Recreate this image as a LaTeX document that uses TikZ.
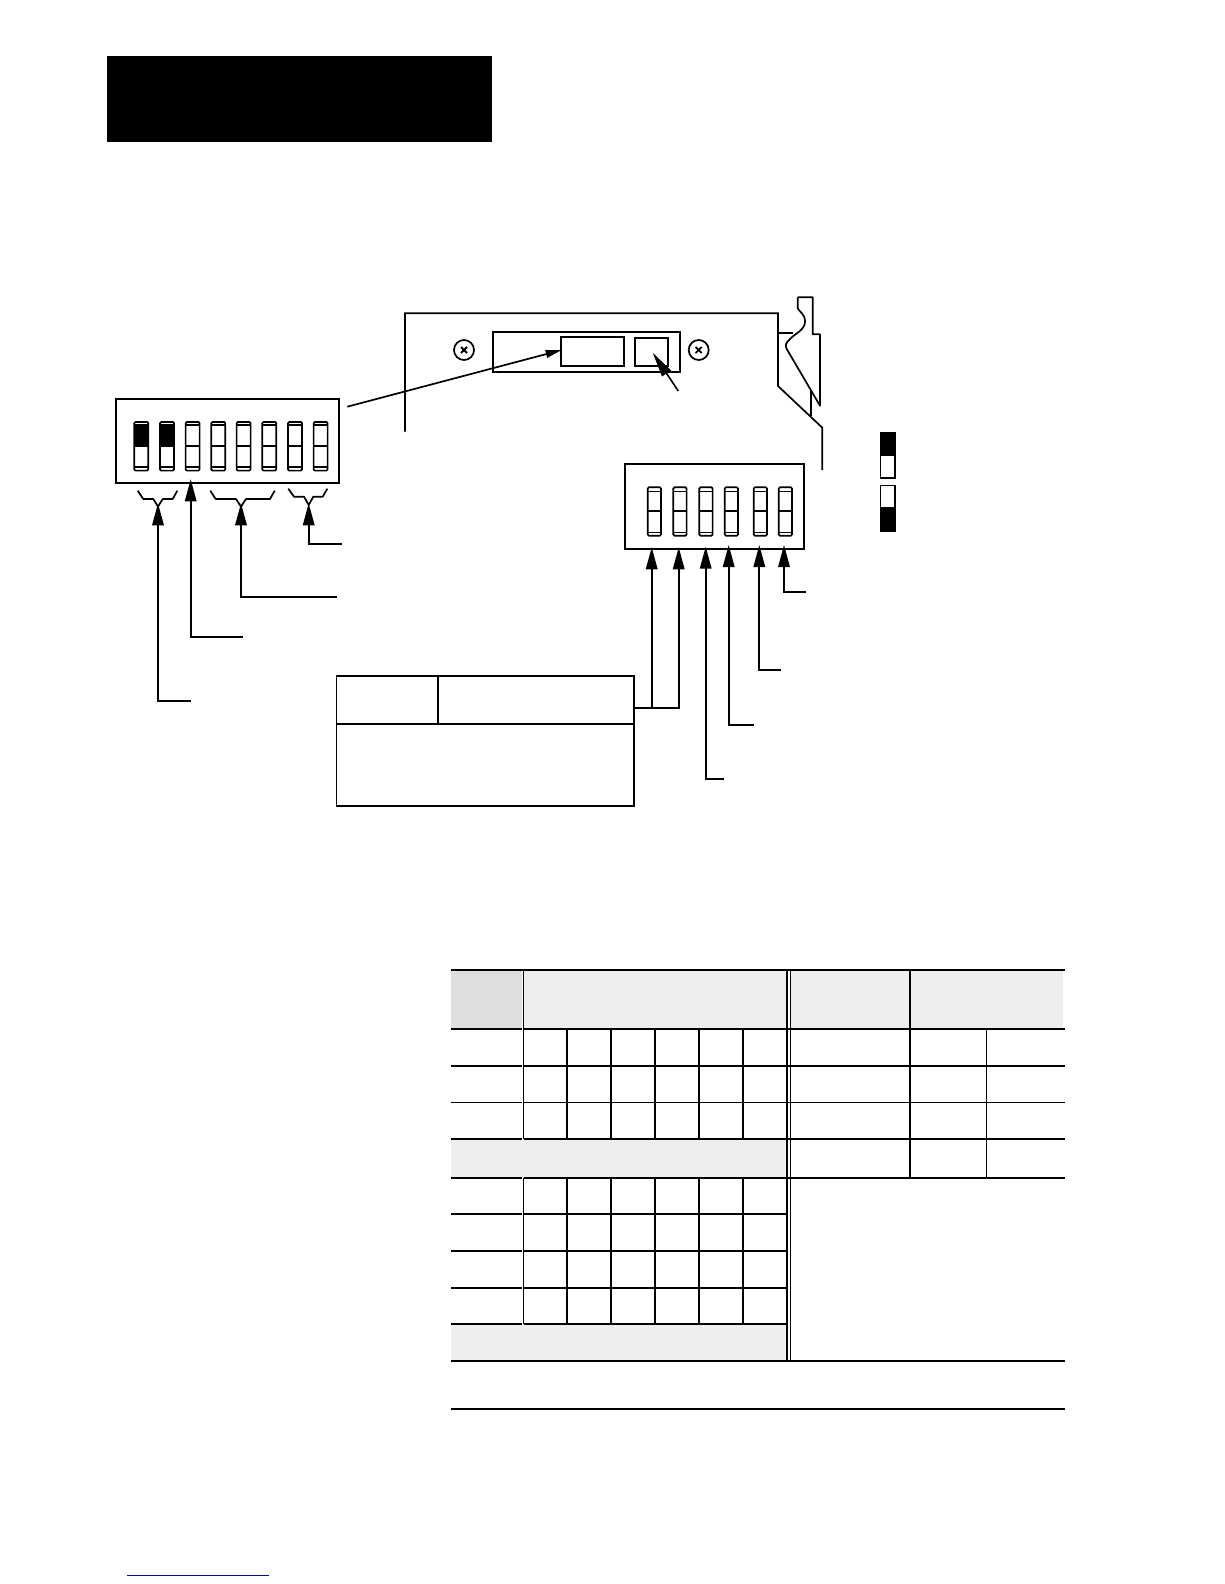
\documentclass[tikz,border=0pt]{standalone}
\usetikzlibrary{arrows.meta,calc}
\definecolor{hdgrey}{gray}{0.87}
\definecolor{lightgrey}{gray}{0.935}
\definecolor{footblue}{rgb}{0.05,0.05,0.55}
\tikzset{
  x=1pt,y=-1pt,
  ln/.style={line width=1.7pt,black,line cap=butt,line join=miter},
  lead/.style={ln,-{Triangle[length=22pt,width=11.5pt]}},
  leadsmall/.style={ln,-{Triangle[length=16pt,width=7.5pt]}},
  leadmid/.style={ln,-{Triangle[length=25pt,width=10.5pt]}},
  brace/.style={ln,line join=round},
  framebox/.style={draw,line width=1.9pt,rectangle,outer sep=0pt,inner sep=0pt},
  rowrule/.style={line width=2pt,black},
  rowthin/.style={line width=1.1pt,black},
  colrule/.style={line width=1.8pt,black},
  colthin/.style={line width=1.1pt,black},
  colheavy/.style={line width=2.2pt,black},
  screw/.style={draw,circle,line width=1.7pt,minimum size=20pt,inner sep=0pt},
  swleg/.style={draw,line width=1.6pt,rectangle,minimum width=14.5pt,inner sep=0pt,outer sep=0pt}
}
% name, x1,y1,x2,y2
\newcommand{\boxnode}[5]{%
  \pgfmathsetmacro{\bw}{#4-#2}\pgfmathsetmacro{\bh}{#5-#3}%
  \node[framebox,minimum width=\bw pt,minimum height=\bh pt] (#1) at ({(#2+#4)/2},{(#3+#5)/2}) {};}
% left x, y top, y mid, y lower cap, y bottom, y upper cap, width
\newcommand{\dipswitch}[7]{%
  \draw[ln,rounded corners=1.2pt] (#1,#2) rectangle (#1+#7,#5);
  \draw[ln,line width=1.4pt] (#1,#6)--(#1+#7,#6) (#1,#3)--(#1+#7,#3) (#1,#4)--(#1+#7,#4);}
\newcommand{\screwmark}[1]{%
  \draw[line width=1.8pt] ($(#1)+(-3,-3)$)--($(#1)+(3,3)$) ($(#1)+(-3,3)$)--($(#1)+(3,-3)$);}
\begin{document}
\begin{tikzpicture}
\useasboundingbox (0,0) rectangle (1224,1584);
\fill[white] (0,0) rectangle (1224,1584);
% banner
\fill[black] (107,56) rectangle (491.7,141.7);
% left DIP box
\boxnode{swA}{115.7}{398.8}{339.3}{483}
\foreach \x in {134.3,160,185.6,211.3,236.6,262.3,288,313.6}{\dipswitch{\x}{422}{446}{467}{470.6}{424.9}{14}}
\foreach \x in {134.3,160}{\fill[black] (\x,425.5) rectangle (\x+14,446);}
% braces
\draw[brace] (137.7,490.7)--(143.3,499)--(153.3,499)--(158,506.7)--(162.7,499)--(172.7,499)--(177.3,490.7);
\draw[brace] (210.3,490.7)--(215.7,499)--(236,499)--(241,506.7)--(246,499)--(270,499)--(274.7,490.7);
\draw[brace] (288.3,488.7)--(294,496.7)--(304,496.7)--(308.7,505)--(313.3,496.7)--(322.7,496.7)--(327.3,488.7);
% card outline
\coordinate (cardBL) at (405,431.5);
\coordinate (cardTL) at (405,313.3);
\coordinate (cardTR) at (778,313.3);
\coordinate (cardS) at (778,386);
\coordinate (cardD) at (822.3,427.7);
\coordinate (cardE) at (822.3,470);
\draw[ln] (cardBL)--(cardTL)--(cardTR)--(cardS)--(cardD)--(cardE);
% latch
\draw[ln,line join=round] (797.7,297.3)--(812.7,297.3)--(812.7,334.3)--(820,334.3)--(820,405.7)--(787,349.5)
  .. controls (785,346) and (785,343.5) .. (790,339)
  .. controls (795,333.5) and (805,330) .. (805,321.5)
  .. controls (805,314) and (799.5,312) .. (797.7,308.3)
  -- (797.7,297.3);
\draw[ln] (778,332.7)--(793.3,332.7);
\draw[ln] (810.7,390)--(810.7,416);
% card internals
\boxnode{tray}{492.7}{331.7}{680}{372.3}
\boxnode{targetA}{561}{337.3}{624.3}{366}
\boxnode{targetB}{635}{337.7}{668}{366}
\node[screw] (screwL) at (464,350) {};
\node[screw] (screwR) at (698.7,350) {};
\screwmark{screwL}
\screwmark{screwR}
% leaders to card
\coordinate (leadA) at (347.3,406.7);
\coordinate (tipA) at (561.7,350);
\draw[leadsmall] (leadA)--(tipA);
\coordinate (leadB) at (678.3,391);
\coordinate (tipB) at (652.7,352.7);
\draw[leadmid] (leadB)--(tipB);
% right DIP box
\boxnode{swB}{624.7}{464.3}{804.3}{549.3}
\foreach \x in {647.7,673.3,699.3,724.7,753.7,778.7}{\dipswitch{\x}{487.3}{511}{532.3}{535.7}{491.3}{13.3}}
% legend switches
\node[swleg,minimum height=45.4pt] (legOn) at (887.8,455.2) {};
\fill[black] (880,432.5) rectangle (895.6,456);
\node[swleg,minimum height=45.4pt] (legOff) at (887.8,508) {};
\fill[black] (880,507.3) rectangle (895.6,530.7);
% left leaders
\coordinate (a1) at (158,503.3);\coordinate (a1c) at (158,701);\coordinate (a1e) at (190.7,701);
\draw[lead] (a1e)--(a1c)--(a1);
\coordinate (a2) at (190.7,479.3);\coordinate (a2c) at (190.7,637);\coordinate (a2e) at (242.7,637);
\draw[lead] (a2e)--(a2c)--(a2);
\coordinate (a3) at (241,503.3);\coordinate (a3c) at (241,596.7);\coordinate (a3e) at (336.7,596.7);
\draw[lead] (a3e)--(a3c)--(a3);
\coordinate (a4) at (308.7,503.3);\coordinate (a4c) at (308.7,543.7);\coordinate (a4e) at (341.7,543.7);
\draw[lead] (a4e)--(a4c)--(a4);
% note box
\boxnode{noteBox}{336.5}{676}{634}{806}
\draw[line width=1.9pt] (438,676)--(438,723.9);
\draw[line width=1.9pt] (336.5,723.9)--(634,723.9);
% right leaders
\coordinate (b0) at (634,708);
\coordinate (b1c) at (651.7,708);\coordinate (b1) at (651.7,547.3);
\coordinate (b2c) at (678.7,708);\coordinate (b2) at (678.7,547.3);
\draw[lead] (b1c)--(b1);
\draw[lead] (b0)--(b2c)--(b2);
\coordinate (b3) at (705.7,546.7);\coordinate (b3c) at (705.7,778.7);\coordinate (b3e) at (724,778.7);
\draw[lead] (b3e)--(b3c)--(b3);
\coordinate (b4) at (728.7,545);\coordinate (b4c) at (728.7,725.3);\coordinate (b4e) at (754,725.3);
\draw[lead] (b4e)--(b4c)--(b4);
\coordinate (b5) at (759.3,545);\coordinate (b5c) at (759.3,670);\coordinate (b5e) at (781,670);
\draw[lead] (b5e)--(b5c)--(b5);
\coordinate (b6) at (784,545);\coordinate (b6c) at (784,592.3);\coordinate (b6e) at (806,592.3);
\draw[lead] (b6e)--(b6c)--(b6);
% table fills
\fill[hdgrey] (451,971) rectangle (521.5,1028);
\fill[lightgrey] (524,971) rectangle (786,1028);
\fill[lightgrey] (791,971) rectangle (909,1028);
\fill[lightgrey] (911,971) rectangle (1063,1028);
\fill[lightgrey] (451,1140) rectangle (786,1177);
\fill[lightgrey] (451,1325) rectangle (786,1360);
% horizontal rules
\draw[rowrule] (451,970)--(1065,970);
\foreach \y/\s in {1029/rowrule,1065.7/rowrule,1102.3/rowthin,1139/rowrule,1177.7/rowrule}{
  \draw[\s] (451,\y)--(522,\y) (524,\y)--(1065,\y);}
\foreach \y in {1213.7,1250.7,1287.7,1324}{\draw[rowrule] (451,\y)--(522,\y) (524,\y)--(786,\y);}
\draw[rowrule] (451,1361)--(1065,1361);
\draw[rowrule] (451,1409)--(1065,1409);
% vertical rules
\draw[colthin] (523.3,970)--(523.3,1139);
\draw[colthin] (523.3,1177.7)--(523.3,1324);
\foreach \x in {567,611,655,699,743}{
  \draw[colrule] (\x,1029)--(\x,1139);
  \draw[colrule] (\x,1177.7)--(\x,1324);}
\draw[colheavy] (786.7,970)--(786.7,1361);
\draw[colthin] (790.3,970)--(790.3,1361);
\draw[colheavy] (910,970)--(910,1177.7);
\draw[colthin] (986.7,1029)--(986.7,1177.7);
% footer link
\draw[line width=1pt,footblue] (127,1575)--(268.7,1575);
\end{tikzpicture}
\end{document}
